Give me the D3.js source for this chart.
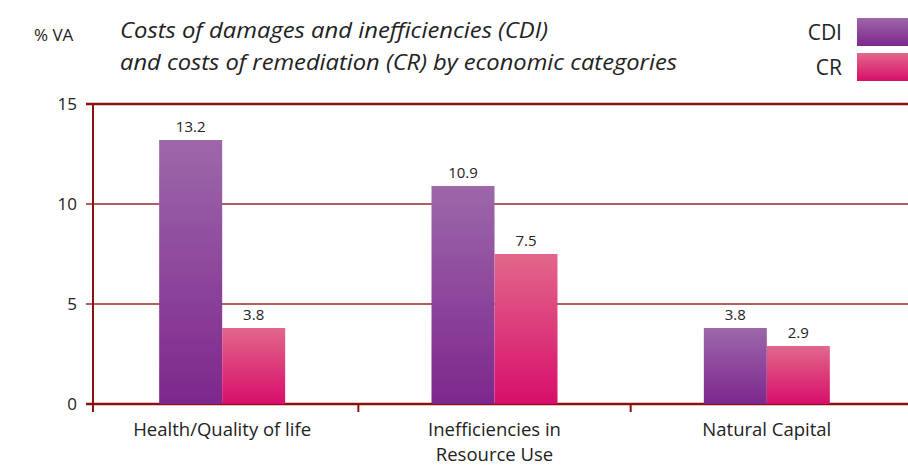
<!DOCTYPE html>
<html>
<head>
<meta charset="utf-8">
<script src="https://cdn.jsdelivr.net/npm/d3@7"></script>
<style>
  body { margin: 0; background: #fff; }
  text { font-family: "Open Sans", sans-serif; fill: #222; }
</style>
</head>
<body>
<script>
let categories = ["Health/Quality of life", "Inefficiencies in\nResource Use", "Natural Capital"];
let series = ["CDI", "CR"];
let cdiValues = [13.2, 10.9, 3.8];
let crValues = [3.8, 7.5, 2.9];
let yTicks = [0, 5, 10, 15];

function main() {
    let svg = d3.select("body").append("svg")
        .attr("width", 908)
        .attr("height", 466);

    let axisColor = "#8b1111";

    let defs = svg.append("defs");
    let grads = [
        { id: "gCDI", top: "#9d67aa", bottom: "#7d278d" },
        { id: "gCR", top: "#e2678b", bottom: "#d80e6b" }
    ];
    grads.forEach(g => {
        let lg = defs.append("linearGradient").attr("id", g.id)
            .attr("x1", 0).attr("y1", 0).attr("x2", 0).attr("y2", 1);
        lg.append("stop").attr("offset", "0%").attr("stop-color", g.top);
        lg.append("stop").attr("offset", "100%").attr("stop-color", g.bottom);
    });
    let fillFor = { CDI: "url(#gCDI)", CR: "url(#gCR)" };

    let yScale = d3.scaleLinear().domain([0, 15]).range([404, 104]);
    let xScale = d3.scaleBand().domain(categories).range([86, 903]);
    let xInner = d3.scaleBand().domain(series).range([0, 126]);

    // gridlines
    svg.append("g").selectAll("line")
        .data(yTicks)
        .enter()
        .append("line")
        .attr("x1", 86)
        .attr("x2", 908)
        .attr("y1", d => yScale(d))
        .attr("y2", d => yScale(d))
        .attr("stroke", axisColor)
        .attr("stroke-opacity", d => (d === 0 || d === 15) ? 1 : 0.9)
        .attr("stroke-width", d => (d === 0 || d === 15) ? 2.5 : 1.3);

    // y tick labels
    svg.append("g").selectAll("text")
        .data(yTicks)
        .enter()
        .append("text")
        .attr("x", 77)
        .attr("y", d => yScale(d) + 6)
        .attr("text-anchor", "end")
        .style("font-size", "17px")
        .text(d => d);

    // y axis line
    svg.append("line")
        .attr("x1", 93).attr("x2", 93)
        .attr("y1", yScale(15)).attr("y2", 412)
        .attr("stroke", axisColor)
        .attr("stroke-width", 2);

    // category separators
    svg.append("g").selectAll("line")
        .data(categories.slice(1))
        .enter()
        .append("line")
        .attr("x1", d => xScale(d))
        .attr("x2", d => xScale(d))
        .attr("y1", yScale(0))
        .attr("y2", 412)
        .attr("stroke", axisColor)
        .attr("stroke-width", 2);

    let rows = categories.map((c, i) => ({ cat: c, CDI: cdiValues[i], CR: crValues[i] }));

    let groups = svg.append("g").selectAll("g")
        .data(rows)
        .enter()
        .append("g")
        .attr("transform", d => `translate(${xScale(d.cat) + xScale.bandwidth() / 2 - 63},0)`);

    groups.selectAll("rect")
        .data(d => series.map(s => ({ s: s, v: d[s] })))
        .enter()
        .append("rect")
        .attr("x", d => xInner(d.s))
        .attr("y", d => yScale(d.v))
        .attr("width", xInner.bandwidth())
        .attr("height", d => yScale(0) - yScale(d.v))
        .attr("fill", d => fillFor[d.s]);

    groups.selectAll("text")
        .data(d => series.map(s => ({ s: s, v: d[s] })))
        .enter()
        .append("text")
        .attr("x", d => xInner(d.s) + xInner.bandwidth() / 2)
        .attr("y", d => yScale(d.v) - 8)
        .attr("text-anchor", "middle")
        .style("font-size", "15px")
        .text(d => d.v.toFixed(1));

    // category labels, one text per line
    let catLines = [];
    categories.forEach(c => {
        c.split("\n").forEach((line, i) => catLines.push({ cat: c, line: line, i: i }));
    });
    svg.append("g").selectAll("text")
        .data(catLines)
        .enter()
        .append("text")
        .attr("x", d => xScale(d.cat) + xScale.bandwidth() / 2)
        .attr("y", d => 436 + d.i * 25)
        .attr("text-anchor", "middle")
        .style("font-size", "18.5px")
        .text(d => d.line);

    // unit label
    svg.append("text")
        .attr("x", 34)
        .attr("y", 41)
        .style("font-size", "17px")
        .text("% VA");

    // title
    svg.append("text")
        .attr("x", 120)
        .attr("y", 38)
        .style("font-size", "21px")
        .style("font-style", "italic")
        .attr("textLength", 428)
        .attr("lengthAdjust", "spacingAndGlyphs")
        .text("Costs of damages and inefficiencies (CDI)");
    svg.append("text")
        .attr("x", 120)
        .attr("y", 70)
        .style("font-size", "21px")
        .style("font-style", "italic")
        .attr("textLength", 557)
        .attr("lengthAdjust", "spacingAndGlyphs")
        .text("and costs of remediation (CR) by economic categories");

    // legend
    let legend = svg.append("g").selectAll("g")
        .data(series)
        .enter()
        .append("g")
        .attr("transform", (d, i) => `translate(857,${18 + i * 35})`);
    legend.append("rect")
        .attr("width", 51)
        .attr("height", 28)
        .attr("fill", d => fillFor[d]);
    legend.append("text")
        .attr("x", -15)
        .attr("y", 22)
        .attr("text-anchor", "end")
        .style("font-size", "21px")
        .text(d => d);
}

main()
</script>
</body>
</html>
